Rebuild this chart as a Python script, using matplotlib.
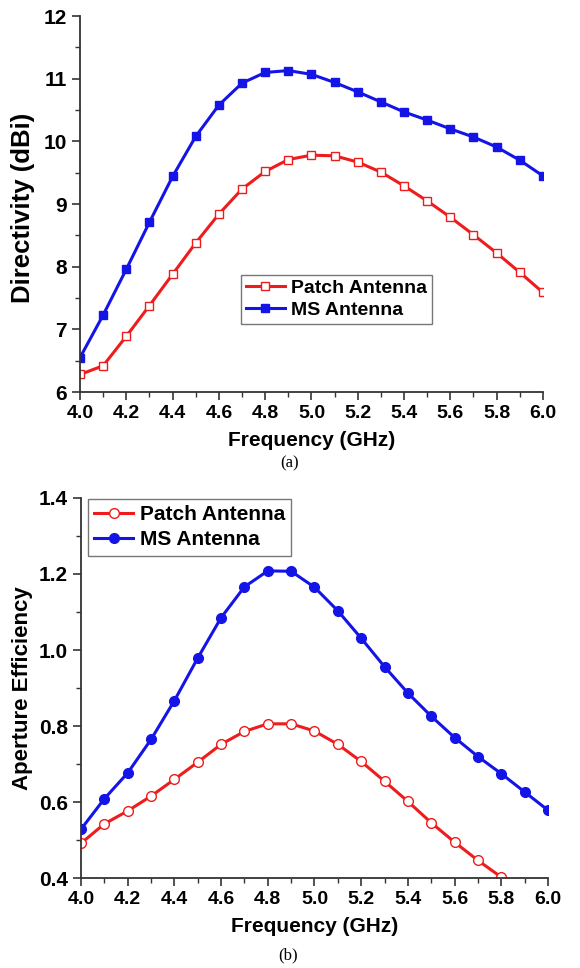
import numpy as np
import matplotlib
matplotlib.use("Agg")
import matplotlib.pyplot as plt
from matplotlib.ticker import MultipleLocator

plt.rcParams['font.family'] = ['Liberation Sans', 'DejaVu Sans']
plt.rcParams['font.weight'] = 'bold'

# frequency points (GHz)
freq = [4.0, 4.1, 4.2, 4.3, 4.4, 4.5, 4.6, 4.7, 4.8, 4.9, 5.0,
        5.1, 5.2, 5.3, 5.4, 5.5, 5.6, 5.7, 5.8, 5.9, 6.0]

# (a) directivity in dBi
dir_patch = [6.28, 6.42, 6.89, 7.38, 7.88, 8.38, 8.84, 9.24, 9.52, 9.71, 9.78,
             9.77, 9.67, 9.51, 9.29, 9.05, 8.79, 8.51, 8.22, 7.91, 7.59]
dir_ms = [6.55, 7.23, 7.96, 8.71, 9.44, 10.08, 10.58, 10.93, 11.10, 11.13, 11.07,
          10.94, 10.79, 10.63, 10.47, 10.34, 10.20, 10.07, 9.91, 9.70, 9.45]

# (b) aperture efficiency
freq_b_patch = freq[:19]
eff_patch = [0.492, 0.543, 0.577, 0.616, 0.660, 0.705, 0.752, 0.786, 0.806, 0.806,
             0.787, 0.752, 0.707, 0.655, 0.602, 0.546, 0.495, 0.447, 0.403]
eff_ms = [0.529, 0.609, 0.677, 0.765, 0.867, 0.979, 1.085, 1.166, 1.208, 1.207, 1.165,
          1.103, 1.031, 0.956, 0.887, 0.826, 0.770, 0.720, 0.675, 0.627, 0.579]

red = '#ee1c1c'
blue = '#1414e6'
spine_col = '#333333'

fig = plt.figure(figsize=(5.8, 9.68), dpi=100)
ax1 = fig.add_axes([0.138, 0.595, 0.798, 0.3884])
ax2 = fig.add_axes([0.1397, 0.0927, 0.805, 0.393])


def style(ax):
    for s in ['top', 'right']:
        ax.spines[s].set_visible(False)
    for s in ['left', 'bottom']:
        ax.spines[s].set_color(spine_col)
        ax.spines[s].set_linewidth(1.3)
    ax.tick_params(which='major', direction='out', length=6, width=1.2,
                   color=spine_col, labelsize=14)
    ax.tick_params(axis='y', which='major', labelsize=15)
    ax.tick_params(which='minor', direction='out', length=3.5, width=1.0,
                   color=spine_col)
    ax.set_xlim(4.0, 6.0)
    ax.xaxis.set_major_locator(MultipleLocator(0.2))
    ax.xaxis.set_minor_locator(MultipleLocator(0.1))
    ax.xaxis.set_major_formatter(matplotlib.ticker.FormatStrFormatter('%.1f'))
    ax.set_xlabel('Frequency (GHz)', fontsize=15, fontweight='bold', labelpad=6)
    for lab in ax.get_xticklabels() + ax.get_yticklabels():
        lab.set_fontweight('bold')


# (a)
ax1.plot(freq, dir_patch, color=red, lw=2.2, marker='s', ms=6,
         mfc='white', mec=red, mew=1.0, label='Patch Antenna')
ax1.plot(freq, dir_ms, color=blue, lw=2.2, marker='s', ms=6,
         mfc=blue, mec=blue, label='MS Antenna')
ax1.set_ylim(6, 12)
ax1.yaxis.set_major_locator(MultipleLocator(1))
ax1.yaxis.set_minor_locator(MultipleLocator(0.5))
style(ax1)
ax1.set_ylabel('Directivity (dBi)', fontsize=18.5, fontweight='bold')
ax1.yaxis.set_label_coords(-0.097, 0.49)
leg1 = ax1.legend(loc='upper left', bbox_to_anchor=(0.348, 0.312), borderaxespad=0,
                  fontsize=14, fancybox=False, edgecolor='#777777', framealpha=1,
                  handlelength=2.0, handletextpad=0.3, borderpad=0.25,
                  labelspacing=0.2)
leg1.get_frame().set_linewidth(1.0)

# (b)
ax2.plot(freq_b_patch, eff_patch, color=red, lw=2.2, marker='o', ms=7,
         mfc='white', mec=red, mew=1.0, label='Patch Antenna')
ax2.plot(freq, eff_ms, color=blue, lw=2.2, marker='o', ms=7,
         mfc=blue, mec=blue, label='MS Antenna')
ax2.set_ylim(0.4, 1.4)
ax2.yaxis.set_major_locator(MultipleLocator(0.2))
ax2.yaxis.set_minor_locator(MultipleLocator(0.1))
ax2.yaxis.set_major_formatter(matplotlib.ticker.FormatStrFormatter('%.1f'))
style(ax2)
ax2.set_ylabel('Aperture Efficiency', fontsize=16, fontweight='bold')
ax2.yaxis.set_label_coords(-0.103, 0.5)
leg2 = ax2.legend(loc='upper left', bbox_to_anchor=(0.014, 0.997), borderaxespad=0,
                  fontsize=15, fancybox=False, edgecolor='#777777', framealpha=1,
                  handlelength=1.9, handletextpad=0.3, borderpad=0.3,
                  labelspacing=0.3)
leg2.get_frame().set_linewidth(1.0)

fig.text(0.5, 1 - 463 / 968, '(a)', ha='center', va='center', fontsize=12,
         fontweight='normal', family=['Liberation Serif', 'DejaVu Serif'])
fig.text(0.497, 1 - 955 / 968, '(b)', ha='center', va='center', fontsize=12,
         fontweight='normal', family=['Liberation Serif', 'DejaVu Serif'])

fig.savefig('out.png', dpi=100)
